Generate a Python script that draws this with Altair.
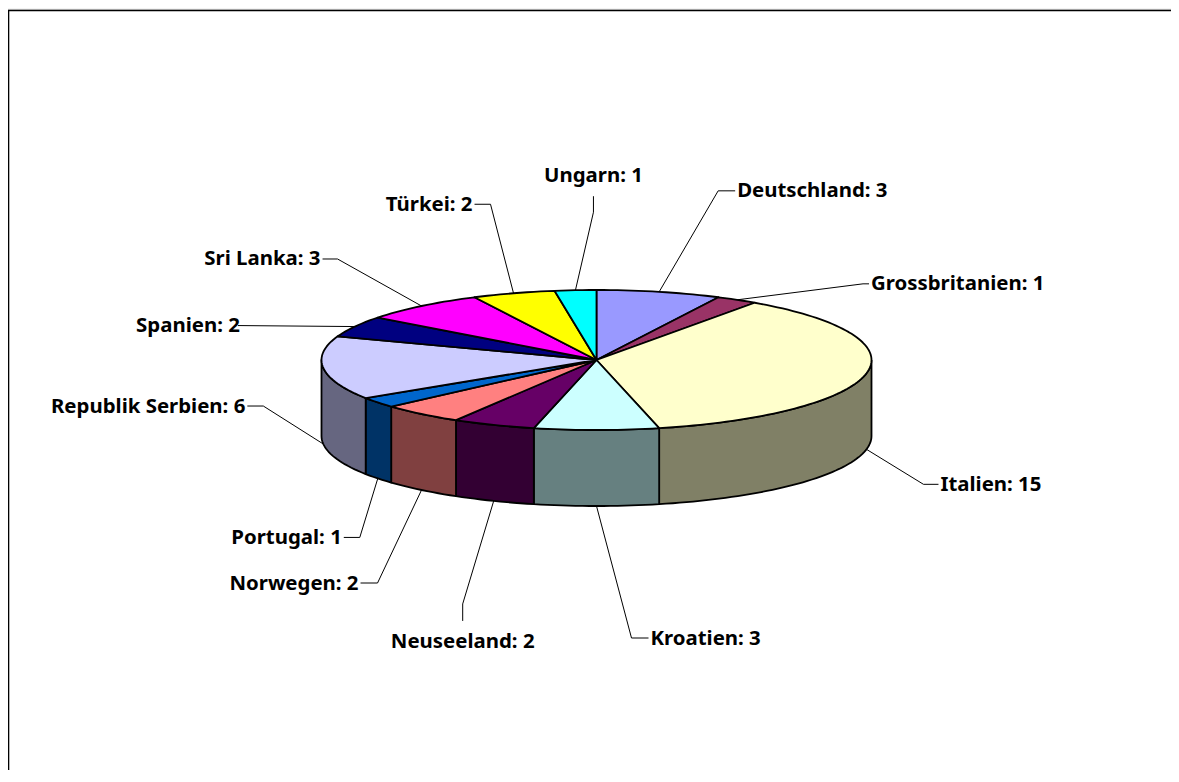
import math
import altair as alt
import pandas as pd

# --- chart data
countries = ["Deutschland", "Grossbritanien", "Italien", "Kroatien", "Neuseeland", "Norwegen",
             "Portugal", "Republik Serbien", "Spanien", "Sri Lanka", "Türkei", "Ungarn"]
counts = [3, 1, 15, 3, 2, 2, 1, 6, 2, 3, 2, 1]
top_colors = ["#9999FF", "#993366", "#FFFFCC", "#CCFFFF", "#660066", "#FF8080",
              "#0066CC", "#CCCCFF", "#000080", "#FF00FF", "#FFFF00", "#00FFFF"]
side_colors = ["#4D4D80", "#4D1A33", "#808066", "#668080", "#330033", "#804040",
               "#003366", "#666680", "#000040", "#800080", "#808000", "#008080"]

# --- leader elbows / tails, relative to each slice's rim point (dx, dy, tail_dx, align)
leader_layout = {
    "Deutschland": (59, -101, 17, "left"),
    "Grossbritanien": (126, -16, 6, "left"),
    "Italien": (57, 35, 15, "left"),
    "Kroatien": (35, 132, 17, "left"),
    "Neuseeland": (-31, 103, 0, "center"),
    "Norwegen": (-44, 93, -17, "right"),
    "Portugal": (-18, 59, -16, "right"),
    "Republik Serbien": (-60, -38, -16, "right"),
    "Spanien": (-117, -1, 0, "right"),
    "Sri Lanka": (-84, -47, -15, "right"),
    "Türkei": (-23, -89, -16, "right"),
    "Ungarn": (18, -78, 0, "center"),
}

# --- pie geometry (page pixels)
CX, CY, RX, RY, DEPTH = 596.5, 360.0, 275.0, 70.0, 76.0
W, H = 1163, 762


def rim(a):
    return CX + RX * math.sin(a), CY - RY * math.cos(a)


def arc_angles(a0, a1):
    n = max(2, int(abs(a1 - a0) / math.radians(1.5)) + 2)
    return [a0 + (a1 - a0) * k / (n - 1) for k in range(n)]


total = sum(counts)
top_rows, side_rows, leader_rows, label_rows = [], [], [], []
cum = 0
for name, v, ct, cs in zip(countries, counts, top_colors, side_colors):
    a0 = 2 * math.pi * cum / total
    a1 = 2 * math.pi * (cum + v) / total
    cum += v
    # top face
    pts = [(CX, CY)] + [rim(a) for a in arc_angles(a0, a1)] + [(CX, CY)]
    for i, (x, y) in enumerate(pts):
        top_rows.append(dict(id=name, i=i, x=x, y=y, fill=ct))
    # visible side wall
    lo, hi = max(a0, math.pi / 2), min(a1, 3 * math.pi / 2)
    if hi > lo:
        upper = [rim(a) for a in arc_angles(lo, hi)]
        lower = [(x, y + DEPTH) for x, y in reversed(upper)]
        poly = upper + lower + [upper[0]]
        for i, (x, y) in enumerate(poly):
            side_rows.append(dict(id=name, i=i, x=x, y=y, fill=cs))
    # leader line and label
    mid = (a0 + a1) / 2
    ax, ay = rim(mid)
    if math.cos(mid) < 0:
        ay += DEPTH
    dx, dy, tail, align = leader_layout[name]
    ex, ey = ax + dx, ay + dy
    if align == "center":
        tail_pt = (ex, ey + (17 if dy > 0 else -16))
        lx, ly = ex, tail_pt[1] + (21 if dy > 0 else -20)
    else:
        tail_pt = (ex + tail, ey)
        lx, ly = tail_pt[0] + (2 if tail >= 0 else -2), ey + 0.5
    for i, (x, y) in enumerate([(ax, ay), (ex, ey), tail_pt]):
        leader_rows.append(dict(id=name, i=i, x=x, y=y))
    label_rows.append(dict(text=f"{name}: {v}", x=lx, y=ly, align=align))

xs = alt.Scale(domain=[8, 8 + W], range=[0, W])
ys = alt.Scale(domain=[8, 8 + H], range=[0, H])
X = alt.X("x:Q", scale=xs, axis=None)
Y = alt.Y("y:Q", scale=ys, axis=None)


def polygons(rows):
    return alt.Chart(pd.DataFrame(rows)).mark_line(
        stroke="black", strokeWidth=1.8, strokeJoin="round", clip=False
    ).encode(x=X, y=Y, detail="id:N", order="i:Q", fill=alt.Fill("fill:N", scale=None, legend=None))


border_shadow = alt.Chart(pd.DataFrame({"x": [8, 8 + W], "y": [9.4, 9.4], "i": [0, 1]})).mark_line(
    stroke="#999999", strokeWidth=1
).encode(x=X, y=Y, order="i:Q")

border = alt.Chart(pd.DataFrame({"x": [8.6, 8.6, 8 + W], "y": [8 + H, 10.6, 10.6], "i": [0, 1, 2]})).mark_line(
    stroke="black", strokeWidth=1.4
).encode(x=X, y=Y, order="i:Q")

leaders = alt.Chart(pd.DataFrame(leader_rows)).mark_line(stroke="black", strokeWidth=1).encode(
    x=X, y=Y, detail="id:N", order="i:Q"
)

layers = [border_shadow, border, leaders, polygons(side_rows), polygons(top_rows)]
labels_df = pd.DataFrame(label_rows)
for al in ["left", "right", "center"]:
    layers.append(
        alt.Chart(labels_df[labels_df["align"] == al]).mark_text(
            align=al, baseline="middle", font="Noto Sans", fontWeight="bold", fontSize=20.4, color="black"
        ).encode(x=X, y=Y, text="text:N")
    )

chart = alt.layer(*layers).properties(
    width=W, height=H, padding=0, autosize=alt.AutoSizeParams(type="none")
).configure_view(stroke=None)
chart.save("out.html", embed_options={"renderer": "svg", "actions": False})
